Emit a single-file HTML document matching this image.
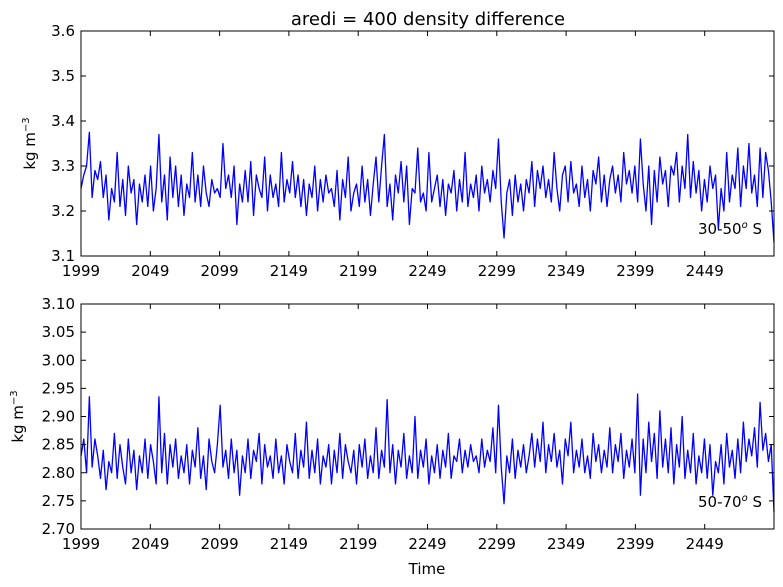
<!DOCTYPE html>
<html><head><meta charset="utf-8"><style>
body{margin:0;background:#fff}
svg{display:block;font-family:"DejaVu Sans","Liberation Sans",sans-serif}
</style></head><body>
<svg id="chart" width="783" height="587">
<text x="428" y="25" font-size="18" text-anchor="middle">aredi = 400 density difference</text>
<g id="top"></g>
<g id="bot"></g>
<text x="427" y="574" font-size="15" text-anchor="middle">Time</text>
</svg>
<script>
const xTicks=[1999,2049,2099,2149,2199,2249,2299,2349,2399,2449];
const topTicks=[3.1,3.2,3.3,3.4,3.5,3.6];
const botTicks=[2.70,2.75,2.80,2.85,2.90,2.95,3.00,3.05,3.10];
const topValues=[3.25,3.28,3.30,3.375,3.23,3.29,3.27,3.31,3.23,3.28,
3.18,3.25,3.22,3.33,3.21,3.27,3.19,3.30,3.24,3.27,
3.17,3.26,3.22,3.28,3.21,3.30,3.20,3.25,3.37,3.22,
3.28,3.18,3.32,3.23,3.30,3.21,3.28,3.19,3.26,3.23,
3.33,3.22,3.28,3.21,3.30,3.24,3.21,3.27,3.24,3.25,
3.23,3.35,3.25,3.28,3.23,3.30,3.17,3.26,3.22,3.29,
3.22,3.31,3.19,3.28,3.25,3.23,3.32,3.20,3.28,3.23,
3.26,3.21,3.33,3.22,3.27,3.24,3.31,3.23,3.28,3.21,
3.27,3.19,3.26,3.23,3.30,3.20,3.27,3.22,3.28,3.24,
3.25,3.21,3.29,3.18,3.27,3.23,3.32,3.20,3.24,3.26,
3.21,3.30,3.22,3.27,3.19,3.26,3.32,3.22,3.30,3.37,
3.21,3.26,3.18,3.28,3.24,3.31,3.22,3.30,3.17,3.25,
3.24,3.34,3.22,3.24,3.20,3.33,3.22,3.25,3.28,3.21,
3.27,3.19,3.26,3.24,3.29,3.20,3.27,3.22,3.33,3.21,
3.26,3.23,3.28,3.20,3.30,3.24,3.27,3.22,3.29,3.25,
3.36,3.22,3.14,3.24,3.27,3.19,3.28,3.22,3.26,3.20,
3.27,3.24,3.31,3.21,3.29,3.25,3.30,3.23,3.27,3.22,
3.33,3.25,3.20,3.28,3.30,3.22,3.31,3.24,3.26,3.21,
3.30,3.23,3.27,3.20,3.29,3.26,3.32,3.22,3.28,3.21,
3.27,3.30,3.24,3.28,3.22,3.33,3.26,3.29,3.24,3.30,
3.22,3.36,3.26,3.20,3.30,3.17,3.29,3.22,3.32,3.26,
3.29,3.21,3.30,3.28,3.33,3.22,3.30,3.25,3.37,3.23,
3.31,3.24,3.29,3.20,3.27,3.22,3.30,3.25,3.28,3.16,
3.25,3.20,3.33,3.22,3.28,3.25,3.34,3.21,3.30,3.25,
3.35,3.24,3.28,3.21,3.34,3.23,3.33,3.29,3.22,3.13];
const botValues=[2.83,2.86,2.80,2.935,2.81,2.86,2.83,2.79,2.84,2.77,
2.82,2.80,2.87,2.79,2.85,2.81,2.78,2.86,2.80,2.84,
2.77,2.83,2.80,2.86,2.79,2.85,2.82,2.78,2.935,2.80,
2.87,2.78,2.85,2.81,2.86,2.79,2.83,2.80,2.85,2.78,
2.84,2.81,2.88,2.79,2.83,2.77,2.86,2.82,2.80,2.85,
2.92,2.81,2.84,2.79,2.86,2.80,2.84,2.76,2.83,2.80,
2.86,2.79,2.84,2.82,2.87,2.78,2.85,2.81,2.83,2.79,
2.86,2.80,2.83,2.78,2.85,2.82,2.80,2.87,2.79,2.84,
2.81,2.89,2.79,2.84,2.80,2.86,2.78,2.83,2.81,2.85,
2.78,2.84,2.80,2.87,2.79,2.85,2.82,2.80,2.84,2.78,
2.85,2.81,2.86,2.79,2.83,2.80,2.88,2.79,2.84,2.81,
2.93,2.80,2.85,2.78,2.84,2.81,2.87,2.79,2.83,2.80,
2.90,2.79,2.84,2.81,2.86,2.78,2.83,2.80,2.85,2.79,
2.84,2.81,2.87,2.79,2.83,2.82,2.86,2.80,2.84,2.81,
2.85,2.82,2.83,2.80,2.86,2.81,2.84,2.82,2.88,2.80,
2.92,2.81,2.745,2.83,2.80,2.86,2.79,2.84,2.81,2.85,
2.80,2.83,2.87,2.81,2.86,2.82,2.89,2.80,2.85,2.82,
2.87,2.81,2.84,2.78,2.86,2.83,2.89,2.80,2.84,2.81,
2.86,2.80,2.83,2.79,2.87,2.82,2.85,2.80,2.84,2.81,
2.88,2.80,2.85,2.82,2.87,2.79,2.84,2.81,2.86,2.80,
2.94,2.76,2.86,2.80,2.89,2.82,2.87,2.79,2.91,2.81,
2.86,2.80,2.88,2.78,2.85,2.81,2.90,2.79,2.84,2.80,
2.87,2.78,2.83,2.80,2.86,2.79,2.85,2.76,2.82,2.80,
2.85,2.78,2.87,2.81,2.84,2.79,2.86,2.80,2.89,2.82,
2.86,2.83,2.88,2.81,2.925,2.84,2.87,2.82,2.85,2.73];
const NS="http://www.w3.org/2000/svg";
const L=81,R=774,X0=1999,X1=2499;
function xs(v){return L+(v-X0)/(X1-X0)*(R-L);}
function mk(tag,attrs,parent){const e=document.createElementNS(NS,tag);for(const k in attrs)e.setAttribute(k,attrs[k]);parent.appendChild(e);return e;}
function panel(g,top,bot,ymin,ymax,ticks,dec,vals,label){
  const ys=v=>bot-(v-ymin)/(ymax-ymin)*(bot-top);
  const n=vals.length;
  let d="";
  vals.forEach((v,i)=>{const yr=X0+i*(X1-X0)/(n-1);d+=(i?"L":"M")+xs(yr).toFixed(2)+","+ys(v).toFixed(2);});
  const line=mk("path",{d:d,fill:"none",stroke:"#0000ff","stroke-width":1.3,"stroke-linejoin":"round"},g);
  
  
  const fr=mk("rect",{x:L,y:top,width:R-L,height:bot-top,fill:"none",stroke:"#000","stroke-width":1},g);
  
  
  xTicks.forEach(t=>{const x=xs(t);
    mk("line",{x1:x,x2:x,y1:bot,y2:bot-5,stroke:"#000"},g);
    mk("line",{x1:x,x2:x,y1:top,y2:top+5,stroke:"#000"},g);
    const tx=mk("text",{x:x,y:bot+20,"font-size":15,"text-anchor":"middle"},g);tx.textContent=t;
    
    });
  ticks.forEach(t=>{const y=ys(t);
    mk("line",{x1:L,x2:L+5,y1:y,y2:y,stroke:"#000"},g);
    mk("line",{x1:R,x2:R-5,y1:y,y2:y,stroke:"#000"},g);
    const tx=mk("text",{x:L-6,y:y+5,"font-size":15,"text-anchor":"end"},g);tx.textContent=t.toFixed(dec);
    
    });
  const yl=mk("text",{x:0,y:0,"font-size":15,"text-anchor":"middle",transform:`translate(${dec==1?35:23},${(top+bot)/2}) rotate(-90)`},g);
  yl.innerHTML='kg m<tspan dy="-6" font-size="10">−3</tspan>';
  
  
  const an=mk("text",{x:762,y:bot-22,"font-size":15,"text-anchor":"end"},g);
  an.innerHTML=label[0]+'<tspan dy="-6" font-size="10" font-style="italic">o</tspan><tspan dy="6"> S</tspan>';
  
  
}
panel(document.getElementById("top"),31,256,3.1,3.6,topTicks,1,topValues,["30-50"]);
panel(document.getElementById("bot"),304,529,2.7,3.1,botTicks,2,botValues,["50-70"]);
</script>
</body></html>
